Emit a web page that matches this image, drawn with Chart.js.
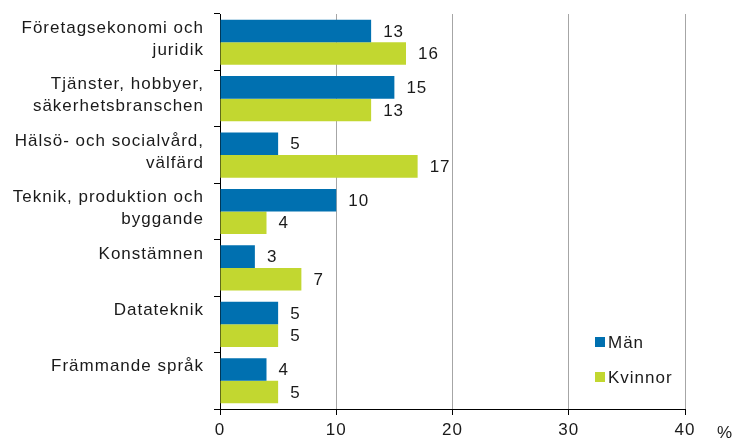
<!DOCTYPE html>
<html>
<head>
<meta charset="utf-8">
<script src="https://cdn.jsdelivr.net/npm/chart.js@4"></script>
<style>
  html, body { margin: 0; padding: 0; background: #fff; }
  #wrap { width: 736px; height: 441px; }
</style>
</head>
<body>
<div id="wrap"><canvas id="fieldChart"></canvas></div>
<script>
// single-line labels sit on the first line, like in the original
const categories = [
    ['Företagsekonomi och', 'juridik'],
    ['Tjänster, hobbyer,', 'säkerhetsbranschen'],
    ['Hälsö- och socialvård,', 'välfärd'],
    ['Teknik, produktion och', 'byggande'],
    ['Konstämnen', ''],
    ['Datateknik', ''],
    ['Främmande språk', '']
];
const men = [13, 15, 5, 10, 3, 5, 4];
const women = [16, 13, 17, 4, 7, 5, 5];
const xTicks = [0, 10, 20, 30, 40];

const FONT = 'Liberation Sans, Arial, sans-serif';

// numbers at the end of each bar + the % sign after the x axis
const labelsPlugin = {
    id: 'labels',
    beforeDraw(chart) {
        chart.ctx.letterSpacing = '1px';
    },
    afterDatasetsDraw(chart) {
        const ctx = chart.ctx;
        ctx.save();
        ctx.letterSpacing = '1px';
        ctx.font = '17px ' + FONT;
        ctx.fillStyle = '#1a1a1a';
        ctx.textAlign = 'left';
        ctx.textBaseline = 'middle';
        chart.data.datasets.forEach((ds, i) => {
            chart.getDatasetMeta(i).data.forEach((bar, j) => {
                ctx.fillText(ds.data[j], bar.x + 12, bar.y + 1);
            });
        });
        const xs = chart.scales.x;
        ctx.fillText('%', xs.right + 32, xs.bottom - 8);
        ctx.restore();
    }
};

// legend inside the plot, bottom right
const legendPlugin = {
    id: 'innerLegend',
    afterDraw(chart) {
        const ctx = chart.ctx;
        const area = chart.chartArea;
        ctx.save();
        ctx.letterSpacing = '1px';
        ctx.font = '17px ' + FONT;
        ctx.textBaseline = 'middle';
        chart.data.datasets.forEach((ds, i) => {
            const x = area.right - 90;
            const y = area.bottom - 67 + i * 35;
            ctx.fillStyle = ds.backgroundColor;
            ctx.fillRect(x, y - 5, 10, 10);
            ctx.fillStyle = '#1a1a1a';
            ctx.fillText(ds.label, x + 13, y + 1);
        });
        ctx.restore();
    }
};

new Chart(document.getElementById('fieldChart').getContext('2d'), {
    type: 'bar',
    data: {
        labels: categories,
        datasets: [
            { label: 'Män', data: men, backgroundColor: '#0070b0',
              categoryPercentage: 0.8, barPercentage: 1 },
            { label: 'Kvinnor', data: women, backgroundColor: '#c2d730',
              categoryPercentage: 0.8, barPercentage: 1 }
        ]
    },
    options: {
        indexAxis: 'y',
        responsive: true,
        maintainAspectRatio: false,
        animation: false,
        layout: { padding: { top: 14, right: 51, bottom: 0, left: 0 } },
        plugins: {
            legend: { display: false },
            tooltip: { enabled: false }
        },
        scales: {
            x: {
                min: 0,
                max: 40,
                afterBuildTicks(scale) {
                    scale.ticks = xTicks.map(v => ({ value: v }));
                },
                afterFit(scale) {
                    scale.height = 32;
                    scale.paddingLeft = 0;
                    scale.paddingRight = 0;
                },
                grid: {
                    color: '#a6a6a6',
                    tickColor: '#000',
                    tickLength: 6,
                    lineWidth: 1
                },
                border: { color: '#000', width: 1 },
                ticks: {
                    color: '#1a1a1a',
                    font: { family: FONT, size: 17 },
                    padding: 5,
                    maxRotation: 0
                }
            },
            y: {
                afterFit(scale) {
                    scale.width = 220;
                    scale.paddingTop = 0;
                    scale.paddingBottom = 0;
                },
                grid: {
                    drawOnChartArea: false,
                    tickColor: '#000',
                    tickLength: 6,
                    offset: true
                },
                border: { color: '#000', width: 1 },
                ticks: {
                    color: '#1a1a1a',
                    font: { family: FONT, size: 17, lineHeight: 1.3 },
                    padding: 10,
                    labelOffset: -3,
                    autoSkip: false
                }
            }
        }
    },
    plugins: [labelsPlugin, legendPlugin]
});
</script>
</body>
</html>
